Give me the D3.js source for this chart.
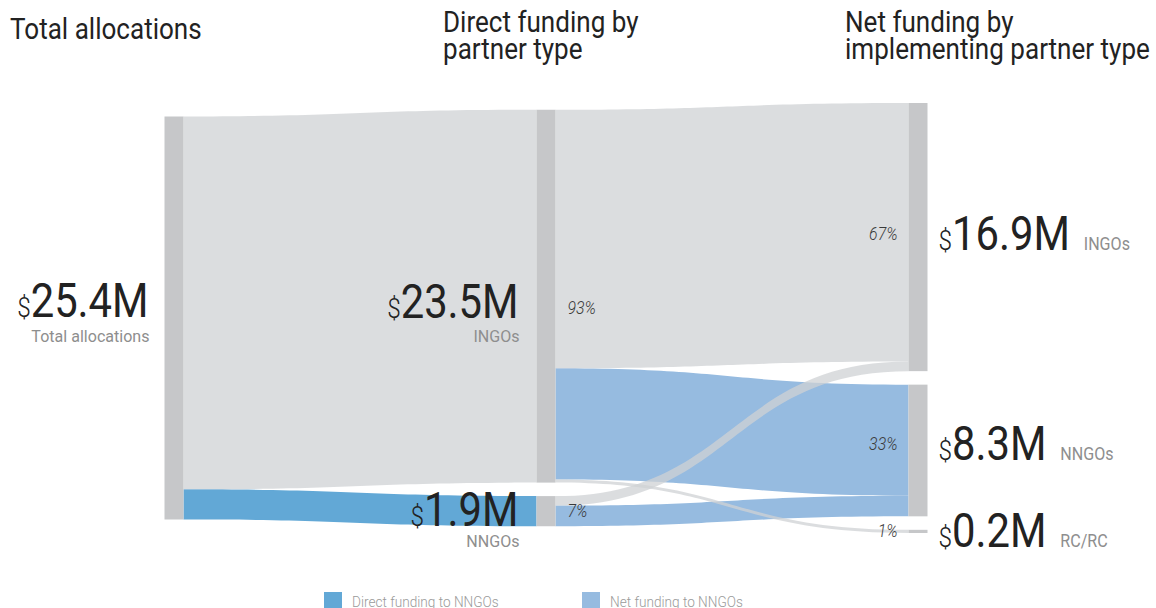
<!DOCTYPE html>
<html><head><meta charset="utf-8">
<script src="https://cdn.jsdelivr.net/npm/d3@7"></script>
<style>
body{margin:0;background:#fff}
svg{display:block}
text{font-family:Roboto,"Open Sans",sans-serif}
</style>
</head><body>
<svg id="chart" width="1156" height="608"></svg>
<script>
// ---- data ----
const nodeIds = ["total", "ingoDirect", "nngoDirect", "ingoNet", "nngoNet", "rcrcNet"];
const nodeColumns = [0, 1, 1, 2, 2, 2];
const nodeAmounts = ["25.4M", "23.5M", "1.9M", "16.9M", "8.3M", "0.2M"];
const nodeNames = ["Total allocations", "INGOs", "NNGOs", "INGOs", "NNGOs", "RC/RC"];
const nodeShares = ["", "93%", "7%", "67%", "33%", "1%"];
const linkSources = [0, 0, 1, 1, 1, 2, 2];
const linkTargets = [1, 2, 3, 4, 5, 3, 4];
const linkValues = [23.5, 1.9, 16.3, 7.0, 0.2, 0.6, 1.3];
const columnTitles = [["Total allocations"], ["Direct funding by", "partner type"], ["Net funding by", "implementing partner type"]];
const legendLabels = ["Direct funding to NNGOs", "Net funding to NNGOs"];

// ---- styles / layout ----
const C = {
  node: "#c6c7c9",
  gray: "#cfd1d4",
  direct: "#62a8d6",
  net: "#96bbe0",
  dark: "#222222",
  sub: "#8e8e8e",
  pct: "#3a3a3a",
  legend: "#9a9a9a"
};
const areaTop = 103, areaBottom = 533, pad = 13.5, nodeW = 19;
const labelCfg = {
  amountDy: [-1.5, 21.5, 15, 13, 10, 16],
  subDy: [25, 24, 21, 0, 0, 0],
  pctDy: [0, 17.5, 6, 3, 0, 6]
};

const svg = d3.select("#chart");
const colX = d3.scaleLinear().domain([0, 2]).range([164.5, 908.5]);

// nodes
const nodes = nodeIds.map((id, i) => ({ id, i, col: nodeColumns[i], out: [], inc: [] }));
const links = linkValues.map((v, i) => ({ i, value: v, source: nodes[linkSources[i]], target: nodes[linkTargets[i]] }));
links.forEach(l => { l.source.out.push(l); l.target.inc.push(l); });
nodes.forEach(n => {
  n.value = Math.max(d3.sum(n.out, l => l.value), d3.sum(n.inc, l => l.value));
});
const cols = d3.groups(nodes, n => n.col).map(d => d[1]);
const kyCandidates = cols.map(c => (areaBottom - areaTop - (c.length - 1) * pad) / d3.sum(c, n => n.value));
const maxTotal = d3.max(cols, c => d3.sum(c, n => n.value));
const h = d3.scaleLinear().domain([0, maxTotal]).range([0, d3.min(kyCandidates) * maxTotal]);

cols.forEach(c => {
  const colH = d3.sum(c, n => h(n.value)) + (c.length - 1) * pad;
  let y = (areaTop + areaBottom) / 2 - colH / 2;
  c.forEach(n => {
    n.x0 = colX(n.col);
    n.x1 = n.x0 + nodeW;
    n.y0 = y;
    n.y1 = y + h(n.value);
    y = n.y1 + pad;
  });
});
nodes.forEach(n => {
  let sy = n.y0;
  n.out.sort((a, b) => a.target.y0 - b.target.y0).forEach(l => { l.sy0 = sy; sy += h(l.value); l.sy1 = sy; });
  let ty = n.y0;
  n.inc.sort((a, b) => a.source.y0 - b.source.y0).forEach(l => { l.ty0 = ty; ty += h(l.value); l.ty1 = ty; });
});

function linkColor(l) {
  if (l.target.id === "nngoDirect") return C.direct;
  if (l.target.id === "nngoNet") return C.net;
  return C.gray;
}
function bandPath(l) {
  const x0 = l.source.x1, x1 = l.target.x0, xm = (x0 + x1) / 2;
  const p = d3.path();
  p.moveTo(x0, l.sy0);
  p.bezierCurveTo(xm, l.sy0, xm, l.ty0, x1, l.ty0);
  p.lineTo(x1, l.ty1);
  p.bezierCurveTo(xm, l.ty1, xm, l.sy1, x0, l.sy1);
  p.closePath();
  return p.toString();
}

// draw links: blue first, gray on top
const ordered = links.slice().sort((a, b) => (linkColor(a) === C.gray) - (linkColor(b) === C.gray));
svg.append("g").selectAll("path").data(ordered).join("path")
  .attr("d", bandPath)
  .attr("fill", linkColor)
  .attr("fill-opacity", l => linkColor(l) === C.gray ? 0.75 : 1);

// nodes
svg.append("g").selectAll("rect").data(nodes).join("rect")
  .attr("x", n => n.x0).attr("y", n => n.y0)
  .attr("width", nodeW).attr("height", n => n.y1 - n.y0)
  .attr("fill", C.node);

// text helper (condensed look)
function addText(parent, x, y, sx, anchor) {
  return parent.append("text")
    .attr("transform", `translate(${x},${y}) scale(${sx},1)`)
    .attr("text-anchor", anchor);
}

const labels = svg.append("g");
// column titles
const titleX = [10, 443, 845];
columnTitles.forEach((lines, ci) => {
  lines.forEach((s, li) => {
    const baseY = ci === 0 ? 39 : 31.5;
    addText(labels, titleX[ci], baseY + li * 27.5, 0.86, "start")
      .attr("font-size", 30.3).attr("fill", C.dark).text(s);
  });
});

// node labels
nodes.forEach(n => {
  const cy = (n.y0 + n.y1) / 2;
  const ay = cy + labelCfg.amountDy[n.i];
  if (n.col < 2) {
    const ax = n.col === 0 ? n.x0 - 16 : n.x0 - 18;
    const t = addText(labels, ax, ay, 0.87, "end").attr("fill", C.dark);
    t.append("tspan").attr("font-size", 28).attr("font-weight", 300).text("$");
    t.append("tspan").attr("font-size", 48).text(nodeAmounts[n.i]);
    addText(labels, ax + 1, ay + labelCfg.subDy[n.i], 0.98, "end")
      .attr("font-size", 16.4).attr("fill", C.sub).text(nodeNames[n.i]);
  } else {
    const t = addText(labels, n.x1 + 11, ay, 0.87, "start").attr("fill", C.dark);
    t.append("tspan").attr("font-size", 28).attr("font-weight", 300).text("$");
    t.append("tspan").attr("font-size", 48).text(nodeAmounts[n.i]);
    t.append("tspan").attr("font-size", 18.5).attr("fill", C.sub).attr("dx", 16).text(nodeNames[n.i]);
  }
  if (nodeShares[n.i]) {
    const py = cy + labelCfg.pctDy[n.i];
    const isMid = n.col === 1;
    addText(labels, isMid ? n.x1 + 12 : n.x0 - 11, py, 0.88, isMid ? "start" : "end")
      .attr("font-size", 18).attr("font-style", "italic").attr("font-weight", 300)
      .attr("fill", C.pct).text(nodeShares[n.i]);
  }
});

// legend
const legendColors = [C.direct, C.net];
const legendX = d3.scalePoint().domain(legendLabels).range([324, 582]);
const lg = svg.append("g").selectAll("g").data(legendLabels).join("g")
  .attr("transform", d => `translate(${legendX(d)},592)`);
lg.append("rect").attr("width", 18).attr("height", 18).attr("fill", (d, i) => legendColors[i]);
lg.each(function (d) {
  addText(d3.select(this), 28, 14.7, 0.88, "start")
    .attr("font-size", 15.5).attr("font-weight", 300).attr("fill", C.legend).text(d);
});
</script>
</body></html>
